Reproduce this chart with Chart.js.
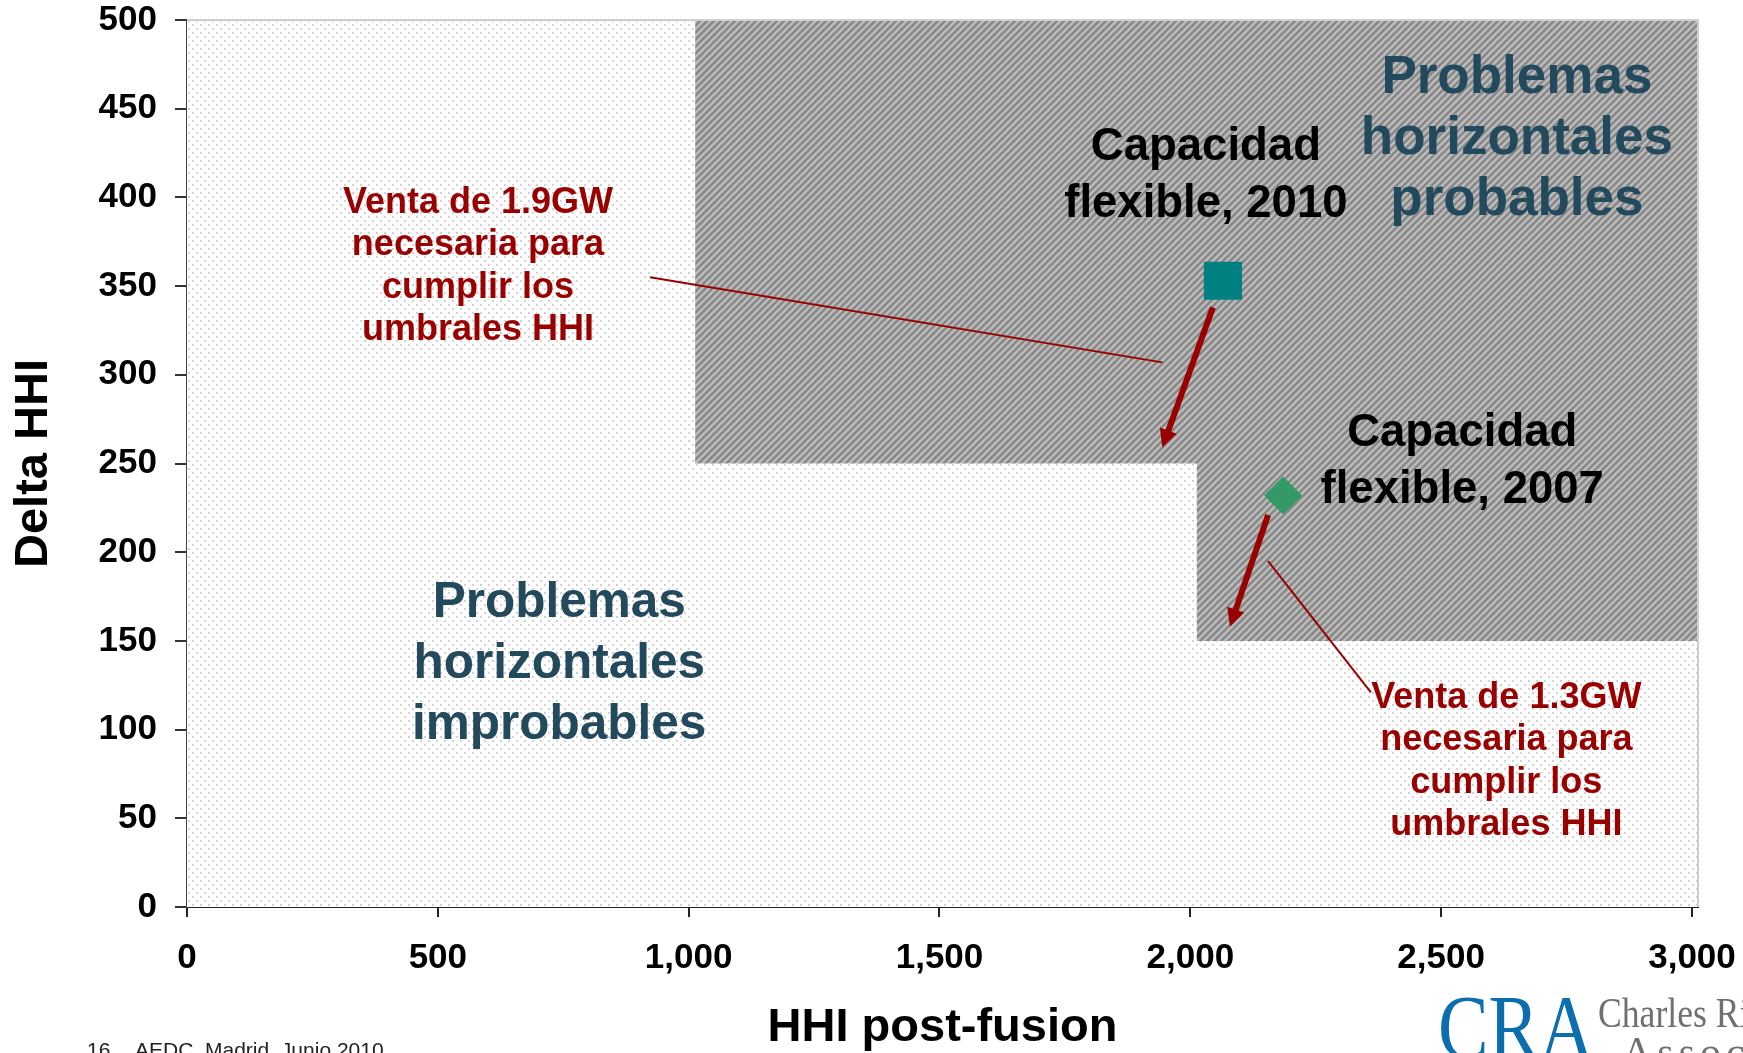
<!DOCTYPE html>
<html lang="es">
<head>
<meta charset="utf-8">
<title>Delta HHI vs HHI post-fusion</title>
<script src="https://cdn.jsdelivr.net/npm/chart.js@4.4.1/dist/chart.umd.min.js"></script>
<style>
  html, body { margin: 0; padding: 0; background: #fff; overflow: hidden; }
</style>
</head>
<body>
<canvas id="hhiChart" width="1743" height="1053"></canvas>
<script>
// ===============================
// Data
// ===============================

const xTicks = [0, 500, 1000, 1500, 2000, 2500, 3000];
const yTicks = [0, 50, 100, 150, 200, 250, 300, 350, 400, 450, 500];
const xMax = 3012;   // plot area runs a bit past the last tick
const yMax = 500;

// zones (corners, HHI / delta HHI)
const safeZoneX = [0, 0, 3012, 3012];
const safeZoneY = [0, 500, 500, 0];
const riskZoneX = [1013, 3012, 3012, 2013, 2013, 1013];
const riskZoneY = [500, 500, 150, 150, 250, 250];

// flexible capacity points
const pointNames = ["Capacidad flexible, 2010", "Capacidad flexible, 2007"];
const pointHHI = [2065, 2185];
const pointDelta = [353, 232];

// divestment arrows
const arrowFromX = [2045, 2155];
const arrowFromY = [338, 221];
const arrowToX = [1944, 2079];
const arrowToY = [259, 158];

// callout lines
const leaderFromX = [923, 2155];
const leaderFromY = [355, 195];
const leaderToX = [1944, 2360];
const leaderToY = [307, 121];

// notes
const noteText = [
    ["Problemas", "horizontales", "probables"],
    ["Capacidad", "flexible, 2010"],
    ["Venta de 1.9GW", "necesaria para", "cumplir los", "umbrales HHI"],
    ["Capacidad", "flexible, 2007"],
    ["Venta de 1.3GW", "necesaria para", "cumplir los", "umbrales HHI"],
    ["Problemas", "horizontales", "improbables"]
];
const noteKind = ["zoneBig", "point", "sale", "point", "sale", "zone"];
const noteX = [2651, 2031, 580, 2542, 2630, 742];
const noteY = [467, 428, 397, 267, 118, 171];

// ===============================
// Styles
// ===============================

const SANS = '"Liberation Sans", Arial, sans-serif';
const SERIF = '"Liberation Serif", "Times New Roman", serif';
Chart.defaults.font.family = SANS;

const noteStyle = {
    zoneBig: { size: 53, gap: 61, color: "#23495c" },
    zone:    { size: 49.5, gap: 61, color: "#23495c" },
    point:   { size: 45.5, gap: 57, color: "#000000" },
    sale:    { size: 36, gap: 42.5, color: "#990000" }
};

function makePattern(size, paint) {
    const c = document.createElement("canvas");
    c.width = size;
    c.height = size;
    paint(c.getContext("2d"), size);
    return c.getContext("2d").createPattern(c, "repeat");
}

const dots = makePattern(8, (g, s) => {
    g.fillStyle = "#ffffff";
    g.fillRect(0, 0, s, s);
    g.fillStyle = "#d2d2d2";
    g.fillRect(0, 0, 2, 2);
    g.fillRect(4, 4, 2, 2);
});

const hatch = makePattern(7, (g, s) => {
    g.fillStyle = "#bcbcbc";
    g.fillRect(0, 0, s, s);
    g.strokeStyle = "#888888";
    g.lineWidth = 2.6;
    g.beginPath();
    g.moveTo(0, s); g.lineTo(s, 0);
    g.moveTo(-s / 2, s / 2); g.lineTo(s / 2, -s / 2);
    g.moveTo(s / 2, s * 1.5); g.lineTo(s * 1.5, s / 2);
    g.stroke();
});

// ===============================
// Overlay plugin (arrows, notes, frame, footer)
// ===============================

const overlay = {
    id: "overlay",
    afterDatasetsDraw(chart) {
        const {ctx, chartArea, scales: {x, y}} = chart;
        ctx.save();

        // light frame on top / right
        ctx.strokeStyle = "#cfcfcf";
        ctx.lineWidth = 2;
        ctx.beginPath();
        ctx.moveTo(chartArea.left, chartArea.top);
        ctx.lineTo(chartArea.right, chartArea.top);
        ctx.lineTo(chartArea.right, chartArea.bottom);
        ctx.stroke();

        // callout lines
        ctx.strokeStyle = "#990000";
        ctx.lineWidth = 2;
        for (let i = 0; i < leaderFromX.length; i++) {
            ctx.beginPath();
            ctx.moveTo(x.getPixelForValue(leaderFromX[i]), y.getPixelForValue(leaderFromY[i]));
            ctx.lineTo(x.getPixelForValue(leaderToX[i]), y.getPixelForValue(leaderToY[i]));
            ctx.stroke();
        }

        // arrows
        ctx.fillStyle = "#990000";
        ctx.lineWidth = 6;
        for (let i = 0; i < arrowFromX.length; i++) {
            const x1 = x.getPixelForValue(arrowFromX[i]);
            const y1 = y.getPixelForValue(arrowFromY[i]);
            const x2 = x.getPixelForValue(arrowToX[i]);
            const y2 = y.getPixelForValue(arrowToY[i]);
            const a = Math.atan2(y2 - y1, x2 - x1);
            const head = 18, half = 9;
            const bx = x2 - head * Math.cos(a), by = y2 - head * Math.sin(a);
            ctx.beginPath();
            ctx.moveTo(x1, y1);
            ctx.lineTo(bx + 2 * Math.cos(a), by + 2 * Math.sin(a));
            ctx.stroke();
            ctx.beginPath();
            ctx.moveTo(x2, y2);
            ctx.lineTo(bx + half * Math.sin(a), by - half * Math.cos(a));
            ctx.lineTo(bx - half * Math.sin(a), by + half * Math.cos(a));
            ctx.closePath();
            ctx.fill();
        }

        // notes
        ctx.textAlign = "center";
        ctx.textBaseline = "middle";
        noteText.forEach((lines, i) => {
            const st = noteStyle[noteKind[i]];
            ctx.font = "bold " + st.size + "px " + SANS;
            ctx.fillStyle = st.color;
            const px = x.getPixelForValue(noteX[i]);
            const py = y.getPixelForValue(noteY[i]);
            lines.forEach((t, k) => ctx.fillText(t, px, py + k * st.gap));
        });

        ctx.restore();
    },
    afterDraw(chart) {
        const ctx = chart.ctx;
        ctx.save();
        ctx.textAlign = "left";
        ctx.textBaseline = "alphabetic";

        // footer
        ctx.font = "21px " + SANS;
        ctx.fillStyle = "#222222";
        ctx.fillText("16", 87, 1057);
        ctx.fillText("AEDC, Madrid, Junio 2010", 135, 1057);

        // logo
        ctx.font = "92px " + SERIF;
        ctx.fillStyle = "#0d6eae";
        ctx.fillText("CRA", 1438, 1058, 156);
        ctx.font = "42px " + SERIF;
        ctx.fillStyle = "#707070";
        ctx.fillText("Charles River", 1598, 1027, 197);
        ctx.letterSpacing = "5px";
        ctx.fillText("Associates", 1622, 1066);
        ctx.restore();
    }
};

// ===============================
// Chart
// ===============================

const ctx = document.getElementById("hhiChart");

const chart = new Chart(ctx, {
    type: "line",
    data: {
        datasets: [
            {
                label: pointNames[0],
                data: [{x: pointHHI[0], y: pointDelta[0]}],
                showLine: false,
                pointStyle: "rect",
                pointRadius: 27,
                backgroundColor: "#008080",
                borderWidth: 0,
                order: 0
            },
            {
                label: pointNames[1],
                data: [{x: pointHHI[1], y: pointDelta[1]}],
                showLine: false,
                pointStyle: "rectRot",
                pointRadius: 19,
                backgroundColor: "#339966",
                borderWidth: 0,
                order: 0
            },
            {
                label: "Problemas horizontales probables",
                data: riskZoneX.map((v, i) => ({x: v, y: riskZoneY[i]})),
                fill: "shape",
                backgroundColor: hatch,
                borderWidth: 0,
                pointRadius: 0,
                tension: 0,
                order: 1
            },
            {
                label: "Problemas horizontales improbables",
                data: safeZoneX.map((v, i) => ({x: v, y: safeZoneY[i]})),
                fill: "shape",
                backgroundColor: dots,
                borderWidth: 0,
                pointRadius: 0,
                tension: 0,
                order: 2
            }
        ]
    },
    options: {
        responsive: false,
        animation: false,
        events: [],
        layout: {
            autoPadding: false,
            padding: {top: 20, right: 45, left: 0, bottom: 0}
        },
        plugins: {
            legend: {display: false},
            tooltip: {enabled: false}
        },
        scales: {
            x: {
                type: "linear",
                min: 0,
                max: xMax,
                afterBuildTicks: s => { s.ticks = xTicks.map(v => ({value: v})); },
                afterFit: s => {
                    s.height = 146;
                    s.paddingLeft = 0;
                    s.paddingRight = 0;
                },
                grid: {drawOnChartArea: false, drawTicks: true, tickLength: 10, color: "#222", lineWidth: 2},
                border: {display: true, color: "#222", width: 2},
                ticks: {
                    font: {size: 35, weight: "bold"},
                    color: "#000",
                    padding: 20,
                    maxRotation: 0,
                    autoSkip: false,
                    callback: v => v.toLocaleString("en-US")
                },
                title: {
                    display: true,
                    text: "HHI post-fusion",
                    color: "#000",
                    font: {size: 47, weight: "bold", lineHeight: 1},
                    padding: {top: 0, bottom: 1}
                }
            },
            y: {
                type: "linear",
                min: 0,
                max: yMax,
                afterBuildTicks: s => { s.ticks = yTicks.map(v => ({value: v})); },
                afterFit: s => {
                    s.width = 187;
                    s.paddingTop = 0;
                    s.paddingBottom = 0;
                },
                grid: {drawOnChartArea: false, drawTicks: true, tickLength: 12, color: "#333", lineWidth: 2},
                border: {display: true, color: "#444", width: 2},
                ticks: {
                    font: {size: 35, weight: "bold"},
                    color: "#000",
                    padding: 18,
                    autoSkip: false
                },
                title: {
                    display: true,
                    text: "Delta HHI",
                    color: "#000",
                    font: {size: 47, weight: "bold", lineHeight: 1},
                    padding: {top: 11, bottom: 0}
                }
            }
        }
    },
    plugins: [overlay]
});
</script>
</body>
</html>
